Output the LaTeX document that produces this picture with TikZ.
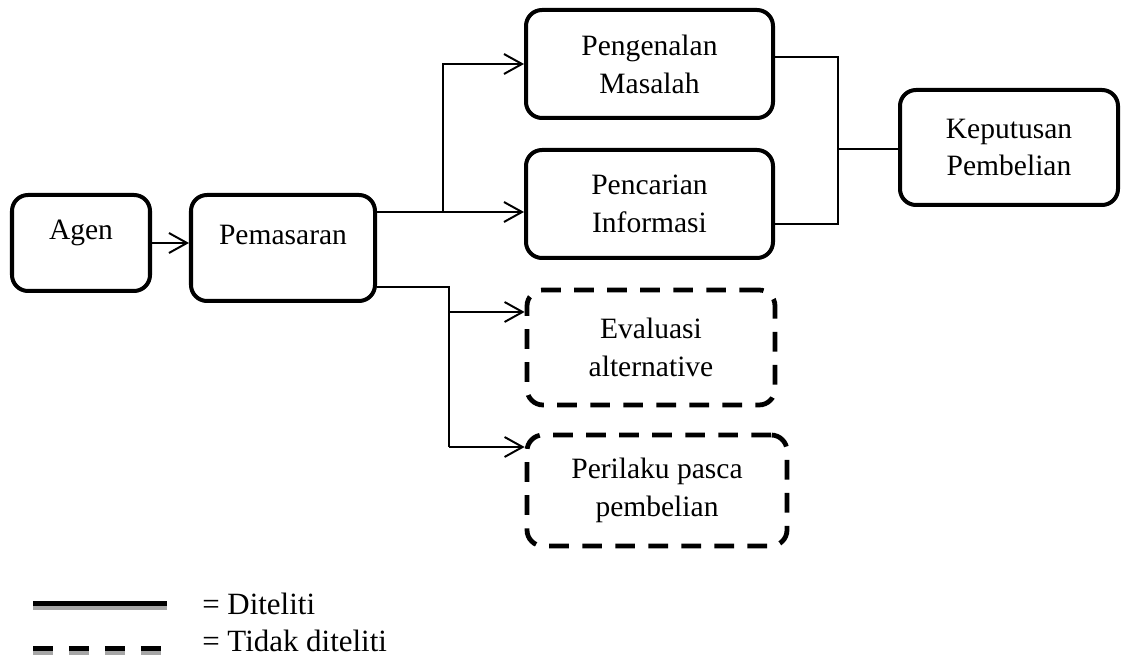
\documentclass[tikz,border=0pt]{standalone}
\usepackage{fontspec}
\setmainfont{Liberation Serif}
\usetikzlibrary{arrows.meta}

\begin{document}
\begin{tikzpicture}[>={Straight Barb[length=12.8pt,width=14.2pt]},
        kotak/.style={draw, line width=2.85pt, rounded corners=0.4cm, align=center,
            inner sep=0pt, font=\fontsize{21}{27}\selectfont},
        kotakputus/.style={kotak, line width=3.4pt, dash pattern=on 14pt off 9.5pt},
        teksatas/.style={text height=0.55cm, text depth=0.71cm},
        garis/.style={line width=1.4pt}]
        \useasboundingbox (0,0) rectangle (28.05,16.4);

        % --- Kotak utama ---
        \node[kotak, teksatas, minimum width=3.45cm, minimum height=2.4cm] (agen) at (2.025,10.325) {Agen};
        \node[kotak, teksatas, minimum width=4.6cm, minimum height=2.65cm] (pemasaran) at (7.075,10.2) {Pemasaran};
        \node[kotak, minimum width=6.175cm, minimum height=2.7cm] (pengenalan) at (16.2375,14.8) {Pengenalan\\Masalah};
        \node[kotak, minimum width=6.175cm, minimum height=2.7cm] (pencarian) at (16.2375,11.3) {Pencarian\\Informasi};
        \node[kotak, minimum width=5.45cm, minimum height=2.875cm] (keputusan) at (25.225,12.7125) {Keputusan\\Pembelian};

        % --- Kotak yang tidak diteliti ---
        \node[kotakputus, minimum width=6.2cm, minimum height=2.875cm] (evaluasi) at (16.275,7.7125) {Evaluasi\\alternative};
        \node[kotakputus, minimum width=6.5cm, minimum height=2.775cm] (perilaku) at (16.425,4.1375) {Perilaku pasca\\pembelian};

        % --- Titik cabang ---
        \coordinate (cabang1) at (11.075,11.1);
        \coordinate (cabang2) at (11.225,9.225);
        \coordinate (keEvaluasi) at (11.225,8.6);
        \coordinate (kePerilaku) at (11.225,5.225);
        \coordinate (gabungAtas) at (20.95,14.975);
        \coordinate (gabungBawah) at (20.95,10.8);
        \coordinate (gabung) at (20.95,12.675);

        % --- Garis penghubung ---
        \draw[garis, ->] (agen.east) -- (agen.east -| pemasaran.west);
        \draw[garis, ->] (pemasaran.east |- cabang1) -- (cabang1 -| pencarian.west);
        \draw[garis, ->] (cabang1) |- (pengenalan.west);
        \draw[garis] (pemasaran.east |- cabang2) -- (cabang2) -- (kePerilaku);
        \draw[garis, ->] (kePerilaku) -- (kePerilaku -| perilaku.west);
        \draw[garis, ->] (keEvaluasi) -- (keEvaluasi -| evaluasi.west);
        \draw[garis] (pengenalan.east |- gabungAtas) -- (gabungAtas) -- (gabungBawah) -- (pencarian.east |- gabungBawah);
        \draw[garis] (gabung) -- (gabung -| keputusan.west);

        % --- Keterangan ---
        \draw[line width=2.85pt, gray!70] (0.825,1.2) -- (4.175,1.2);
        \draw[line width=3.56pt] (0.825,1.3125) -- (4.175,1.3125);
        \draw[line width=2.85pt, gray!70, dash pattern=on 14.2pt off 11.4pt] (0.825,0.075) -- (4.125,0.075);
        \draw[line width=3.56pt, dash pattern=on 14.2pt off 11.4pt] (0.825,0.1875) -- (4.125,0.1875);
        \node[anchor=west, inner sep=0pt, font=\fontsize{22}{26}\selectfont] (ketDiteliti) at (5.05,1.3) {= Diteliti};
        \node[anchor=west, inner sep=0pt, font=\fontsize{22}{26}\selectfont] (ketTidak) at (5.05,0.38) {= Tidak diteliti};
    \end{tikzpicture}
\end{document}
